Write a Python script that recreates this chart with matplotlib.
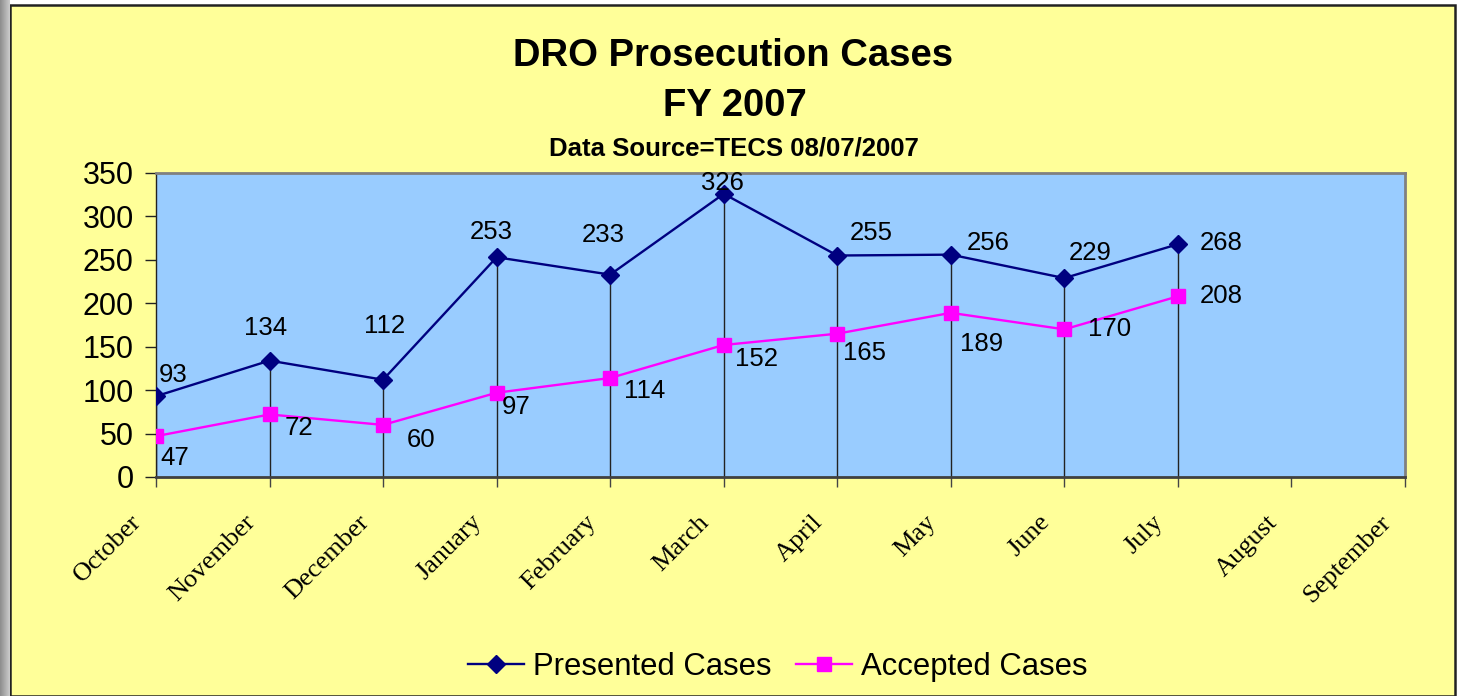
import numpy as np
import matplotlib
matplotlib.use("Agg")
import matplotlib.pyplot as plt
from matplotlib.patches import Rectangle

months = ["October", "November", "December", "January", "February", "March",
          "April", "May", "June", "July", "August", "September"]
presented = [93, 134, 112, 253, 233, 326, 255, 256, 229, 268]
accepted = [47, 72, 60, 97, 114, 152, 165, 189, 170, 208]
y_ticks = [0, 50, 100, 150, 200, 250, 300, 350]

# label offsets (pixels) - styling only
pres_off = [(17, 21), (-4, 33), (1, 54), (-5, 25), (-7, 40), (-1, 11), (34, 23), (37, 12), (26, 25), (43, 1)]
acc_off = [(19, -22), (29, -14), (38, -15), (19, -14), (34, -13), (33, -14), (27, -19), (31, -31), (45, 0), (43, 0)]

W, H = 1461, 696
fig = plt.figure(figsize=(W / 100, H / 100), dpi=100)
fig.patch.set_facecolor("white")

# left gray gradient strip
gax = fig.add_axes([0, 0, 10 / W, 1])
grad = np.linspace(0.55, 0.8, 50).reshape(1, -1)
gax.imshow(np.repeat(grad, 10, axis=0), cmap="gray", vmin=0, vmax=1, aspect="auto", extent=[0, 1, 0, 1])
gax.axis("off")

# yellow chart area with border
fig.patches.append(Rectangle((10 / W, 0), (1455 - 10) / W, (H - 5) / H, transform=fig.transFigure,
                             facecolor="#FFFF99", edgecolor="#222222", linewidth=1.8, zorder=-5))

ax = fig.add_axes([156 / W, 1 - 477 / H, (1405 - 156) / W, (477 - 173) / H])
ax.set_facecolor("#99CCFF")

x_all = np.arange(len(months))
x = x_all[:len(presented)]

ax.vlines(x, 0, np.maximum(presented, accepted), color="#222222", linewidth=1.0, zorder=2)
ax.plot(x, presented, color="#000080", linewidth=1.7, marker="D", markersize=9.5, zorder=4,
        label="Presented Cases")
ax.plot(x, accepted, color="#FF00FF", linewidth=1.7, marker="s", markersize=10, zorder=3,
        label="Accepted Cases")

for xi, v, off in zip(x, presented, pres_off):
    ax.annotate(str(v), xy=(xi, v), xytext=off, textcoords="offset pixels", ha="center", va="center",
                fontsize=18.5, family="Liberation Sans", zorder=5)
for xi, v, off in zip(x, accepted, acc_off):
    ax.annotate(str(v), xy=(xi, v), xytext=off, textcoords="offset pixels", ha="center", va="center",
                fontsize=18.5, family="Liberation Sans", zorder=5)

ax.set_xlim(0, len(months) - 1)
ax.set_ylim(0, 350)
ax.set_yticks(y_ticks)
ax.set_yticklabels([str(t) for t in y_ticks], fontsize=22, family="Liberation Sans")
ax.set_xticks(x_all)
ax.set_xticklabels([])
ax.tick_params(axis="y", direction="out", length=8, width=1, pad=8, color="#222222")
ax.tick_params(axis="x", direction="out", length=7, width=1, color="#444444")

for i, m in enumerate(months):
    ax.annotate(m, xy=(i, 0), xycoords=("data", "axes fraction"), xytext=(-10, -34),
                textcoords="offset pixels", rotation=45, ha="right", va="top",
                fontsize=19, family="Liberation Serif", annotation_clip=False)

ax.spines["top"].set_color("#808080")
ax.spines["right"].set_color("#808080")
ax.spines["top"].set_linewidth(2)
ax.spines["right"].set_linewidth(2)
ax.spines["left"].set_color("#222222")
ax.spines["left"].set_linewidth(1)
ax.spines["bottom"].set_color("#404040")
ax.spines["bottom"].set_linewidth(2)

fig.text(733 / W, 1 - 56 / H, "DRO Prosecution Cases", ha="center", va="center",
         fontsize=27.5, fontweight="bold", family="Liberation Sans")
fig.text(735 / W, 1 - 106 / H, "FY 2007", ha="center", va="center",
         fontsize=27.5, fontweight="bold", family="Liberation Sans")
fig.text(734 / W, 1 - 148 / H, "Data Source=TECS 08/07/2007", ha="center", va="center",
         fontsize=18.5, fontweight="bold", family="Liberation Sans")

fig.legend(loc="center", bbox_to_anchor=(778 / W, 1 - 667 / H), ncol=2, frameon=False,
           prop={"family": "Liberation Sans", "size": 22.3}, handlelength=1.8,
           handletextpad=0.3, columnspacing=0.8)

fig.savefig("out.png", dpi=100)
